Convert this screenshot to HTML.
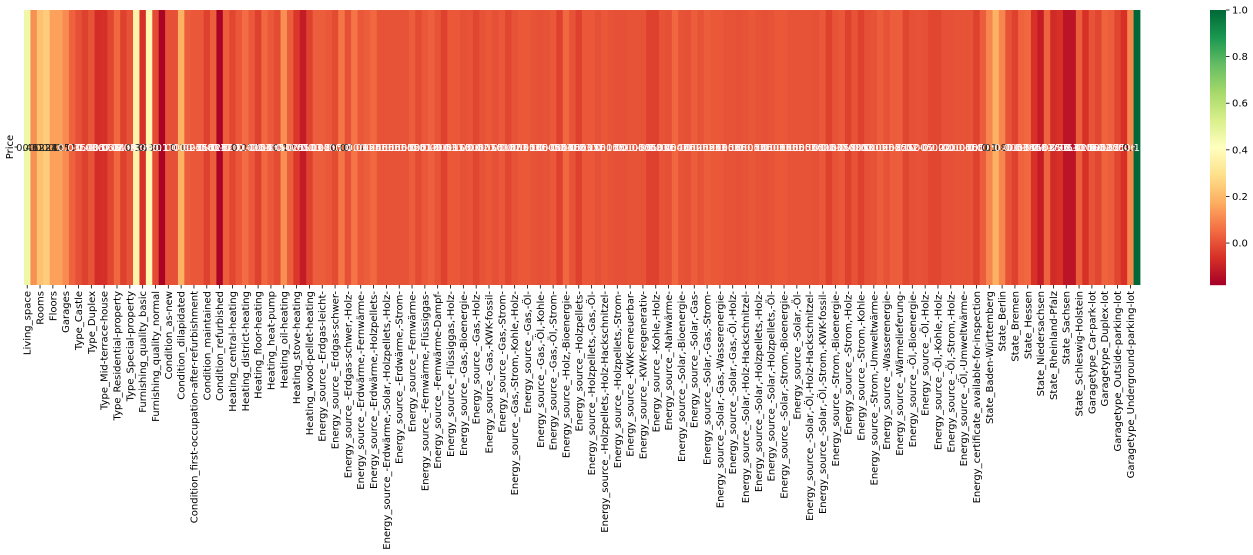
<!DOCTYPE html>
<html><head><meta charset="utf-8"><style>
html,body{margin:0;padding:0;background:#fff;}
svg{display:block;font-family:"DejaVu Sans","Liberation Sans",sans-serif;}
</style></head><body>
<svg id="chart" width="1253" height="555" viewBox="0 0 1253 555" xmlns="http://www.w3.org/2000/svg">
<g id="cells"></g>
<g id="annots"></g>
<g id="xticks"></g>
<g>
<line x1="14.5" y1="147" x2="18" y2="147" stroke="#000" stroke-width="0.8"/>
<text transform="translate(13,147) rotate(-90)" text-anchor="middle" font-size="10">Price</text>
</g>
<g id="cbar"></g>
</svg>
<script>
const labels=["Living_space","Rooms","Floors","Garages","Type_Castle","Type_Duplex","Type_Mid-terrace-house","Type_Residential-property","Type_Special-property","Furnishing_quality_basic","Furnishing_quality_normal","Condition_as-new","Condition_dilapidated","Condition_first-occupation-after-refurbishment","Condition_maintained","Condition_refurbished","Heating_central-heating","Heating_district-heating","Heating_floor-heating","Heating_heat-pump","Heating_oil-heating","Heating_stove-heating","Heating_wood-pellet-heating","Energy_source_-Erdgas-leicht-","Energy_source_-Erdgas-schwer-","Energy_source_-Erdgas-schwer,-Holz-","Energy_source_-Erdwärme,-Fernwärme-","Energy_source_-Erdwärme,-Holzpellets-","Energy_source_-Erdwärme,-Solar,-Holzpellets,-Holz-","Energy_source_-Erdwärme,-Strom-","Energy_source_-Fernwärme-","Energy_source_-Fernwärme,-Flüssiggas-","Energy_source_-Fernwärme-Dampf-","Energy_source_-Flüssiggas,-Holz-","Energy_source_-Gas,-Bioenergie-","Energy_source_-Gas,-Holz-","Energy_source_-Gas,-KWK-fossil-","Energy_source_-Gas,-Strom-","Energy_source_-Gas,-Strom,-Kohle,-Holz-","Energy_source_-Gas,-Öl-","Energy_source_-Gas,-Öl,-Kohle-","Energy_source_-Gas,-Öl,-Strom-","Energy_source_-Holz,-Bioenergie-","Energy_source_-Holzpellets-","Energy_source_-Holzpellets,-Gas,-Öl-","Energy_source_-Holzpellets,-Holz-Hackschnitzel-","Energy_source_-Holzpellets,-Strom-","Energy_source_-KWK-erneuerbar-","Energy_source_-KWK-regenerativ-","Energy_source_-Kohle,-Holz-","Energy_source_-Nahwärme-","Energy_source_-Solar,-Bioenergie-","Energy_source_-Solar,-Gas-","Energy_source_-Solar,-Gas,-Strom-","Energy_source_-Solar,-Gas,-Wasserenergie-","Energy_source_-Solar,-Gas,-Öl,-Holz-","Energy_source_-Solar,-Holz-Hackschnitzel-","Energy_source_-Solar,-Holzpellets,-Holz-","Energy_source_-Solar,-Holzpellets,-Öl-","Energy_source_-Solar,-Strom,-Bioenergie-","Energy_source_-Solar,-Öl-","Energy_source_-Solar,-Öl,-Holz-Hackschnitzel-","Energy_source_-Solar,-Öl,-Strom,-KWK-fossil-","Energy_source_-Strom,-Bioenergie-","Energy_source_-Strom,-Holz-","Energy_source_-Strom,-Kohle-","Energy_source_-Strom,-Umweltwärme-","Energy_source_-Wasserenergie-","Energy_source_-Wärmelieferung-","Energy_source_-Öl,-Bioenergie-","Energy_source_-Öl,-Holz-","Energy_source_-Öl,-Kohle,-Holz-","Energy_source_-Öl,-Strom,-Holz-","Energy_source_-Öl,-Umweltwärme-","Energy_certificate_available-for-inspection","State_Baden-Württemberg","State_Berlin","State_Bremen","State_Hessen","State_Niedersachsen","State_Rheinland-Pfalz","State_Sachsen","State_Schleswig-Holstein","Garagetype_Car-park-lot","Garagetype_Duplex-lot","Garagetype_Outside-parking-lot","Garagetype_Underground-parking-lot"];
const values=[0.46,0.12,0.22,0.245,0.15,0.15,0.11,0.035,0.0,-0.03,0.005,-0.07,-0.065,-0.02,0.045,-0.03,0.005,0.36,-0.065,0.38,-0.01,-0.17,0.0,0.0,0.18,0.025,0.015,0.015,-0.03,0.025,-0.17,0.025,-0.02,0.015,0.055,0.015,-0.03,0.045,0.015,-0.01,0.12,0.025,-0.05,-0.11,
-0.03,0.025,0.025,0.015,-0.01,0.07,0.0,0.07,0.015,0.025,0.045,0.005,0.005,0.005,0.005,0.005,0.025,-0.01,0.015,0.03,0.005,-0.03,0.015,0.015,0.0,0.005,-0.02,0.005,0.015,0.0,0.015,-0.02,0.005,0.015,0.015,0.005,0.0,0.005,0.015,-0.03,0.045,0.005,-0.03,
0.015,0.015,0.0,0.015,0.005,0.0,0.0,0.005,0.005,0.005,-0.03,-0.03,0.005,0.0,0.045,0.005,0.0,0.025,0.005,0.025,0.015,0.015,0.005,0.005,0.0,0.005,0.015,0.005,0.0,0.005,0.015,0.015,0.005,0.005,0.005,0.005,0.0,0.015,-0.03,0.005,0.015,-0.03,0.005,-0.03,
0.0,0.005,0.025,0.005,0.025,0.025,-0.02,0.0,0.005,0.0,-0.02,-0.02,0.0,0.0,0.005,0.005,0.005,-0.03,0.025,0.1,0.18,0.1,0.005,-0.03,0.035,0.045,-0.06,-0.11,0.035,-0.075,-0.06,-0.13,-0.13,0.025,-0.06,0.005,-0.02,0.035,0.025,-0.02,-0.06,0.1,1.0];
const cbTicks=[0.0,0.2,0.4,0.6,0.8,1.0];
const VMIN=-0.18, VMAX=1.0;
const X0=24, X1=1140, Y0=10, Y1=285;
const cw=(X1-X0)/values.length;
const stops=["#a50026","#d73027","#f46d43","#fdae61","#fee08b","#ffffbf","#d9ef8b","#a6d96a","#66bd63","#1a9850","#006837"];
function hx(h){return [1,3,5].map(i=>parseInt(h.substr(i,2),16));}
function cmap(v){let t=(v-VMIN)/(VMAX-VMIN);t=Math.max(0,Math.min(1,t))*10;let i=Math.min(9,Math.floor(t)),f=t-i;const a=hx(stops[i]),b=hx(stops[i+1]);const c=a.map((x,k)=>Math.round(x+(b[k]-x)*f));return {css:`rgb(${c[0]},${c[1]},${c[2]})`,lum:(0.299*c[0]+0.587*c[1]+0.114*c[2])/255};}
function xs(i){return X0+i*cw;}
function ys(v){return Y1-(v-VMIN)/(VMAX-VMIN)*(Y1-Y0);}
const NS="http://www.w3.org/2000/svg";
function mk(t,a,p){const e=document.createElementNS(NS,t);for(const k in a)e.setAttribute(k,a[k]);p.appendChild(e);return e;}
const cells=document.getElementById('cells'),annots=document.getElementById('annots'),xt=document.getElementById('xticks'),cb=document.getElementById('cbar');
function fmt(v){return Number(v.toPrecision(2)).toString();}
values.forEach((v,i)=>{
 const c=cmap(v);
 const r=mk('rect',{x:xs(i),y:Y0,width:cw+0.4,height:Y1-Y0,fill:c.css},cells);
 
 
 const t=mk('text',{x:xs(i)+cw/2,y:151,'text-anchor':'middle','font-size':'10',fill:c.lum>0.55?'#262626':'#ffffff'},annots);
 
 
 t.textContent=fmt(v);
});
labels.forEach((lab,k)=>{
 const x=xs(2*k)+cw/2;
 const l=mk('line',{x1:x,y1:Y1,x2:x,y2:Y1+3.5,stroke:'#000','stroke-width':0.8},xt);
 
 
 const t=mk('text',{transform:`translate(${x+3.5},${Y1+6}) rotate(-90)`,'text-anchor':'end','font-size':'10',fill:'#000'},xt);
 
 
 t.textContent=lab;
});
const CBX=1210,CBW=16;
for(let y=Y0;y<Y1;y+=1){const v=VMIN+(Y1-y-0.5)/(Y1-Y0)*(VMAX-VMIN);const r=mk('rect',{x:CBX,y:y,width:CBW,height:1.2,fill:cmap(v).css},cb);
 
 }
cbTicks.forEach(v=>{const y=ys(v);
 const l=mk('line',{x1:CBX+CBW,y1:y,x2:CBX+CBW+3.5,y2:y,stroke:'#000','stroke-width':0.8},cb);
 
 
 const t=mk('text',{x:CBX+CBW+6,y:y+3.5,'font-size':'10',fill:'#000'},cb);
 
 
 t.textContent=v.toFixed(1);});
</script>
</body></html>
